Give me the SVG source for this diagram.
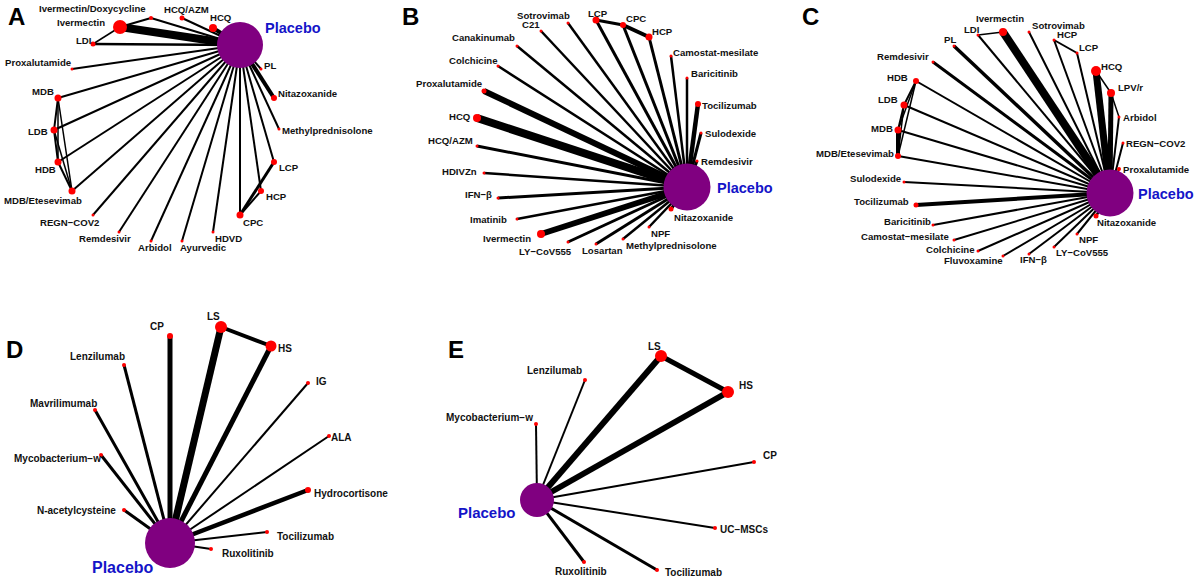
<svg xmlns="http://www.w3.org/2000/svg" width="1200" height="581" viewBox="0 0 1200 581">
<style>
.e{stroke:#000;stroke-linecap:butt;fill:none}
.n{fill:#ff0000}
.p{fill:#800080}
text{font-family:"Liberation Sans",Arial,sans-serif;font-weight:bold;font-size:9.6px;fill:#111}
.big text,.d text{font-size:10px}
.pl{fill:#1414c8;font-size:14.5px}
.ltr{font-size:24px;fill:#000}
</style>
<rect width="1200" height="581" fill="#fff"/>
<g id="panel-letters">
<text class="ltr" x="8" y="25">A</text>
<text class="ltr" x="402" y="25">B</text>
<text class="ltr" x="802" y="25">C</text>
<text class="ltr" x="6" y="358">D</text>
<text class="ltr" x="448" y="358">E</text>
</g>
<g id="connectors">
<g id="edges-A">
<line class="e" x1="151" y1="18" x2="240" y2="45" stroke-width="2"/>
<line class="e" x1="151" y1="18" x2="120" y2="27" stroke-width="2"/>
<line class="e" x1="120" y1="27" x2="240" y2="45" stroke-width="8"/>
<line class="e" x1="93" y1="44" x2="120" y2="27" stroke-width="1.5"/>
<line class="e" x1="93" y1="44" x2="240" y2="45" stroke-width="2.5"/>
<line class="e" x1="182" y1="18" x2="240" y2="45" stroke-width="2"/>
<line class="e" x1="213" y1="28" x2="240" y2="45" stroke-width="4"/>
<line class="e" x1="72" y1="69" x2="240" y2="45" stroke-width="2"/>
<line class="e" x1="58" y1="98" x2="240" y2="45" stroke-width="2"/>
<line class="e" x1="54" y1="130" x2="240" y2="45" stroke-width="2"/>
<line class="e" x1="58" y1="162" x2="240" y2="45" stroke-width="2"/>
<line class="e" x1="72" y1="191" x2="240" y2="45" stroke-width="2"/>
<line class="e" x1="58" y1="98" x2="54" y2="130" stroke-width="2"/>
<line class="e" x1="58" y1="98" x2="58" y2="162" stroke-width="1.5"/>
<line class="e" x1="58" y1="98" x2="72" y2="191" stroke-width="1.5"/>
<line class="e" x1="54" y1="130" x2="58" y2="162" stroke-width="2"/>
<line class="e" x1="54" y1="130" x2="72" y2="191" stroke-width="1.5"/>
<line class="e" x1="58" y1="162" x2="72" y2="191" stroke-width="2"/>
<line class="e" x1="93" y1="215" x2="240" y2="45" stroke-width="2"/>
<line class="e" x1="119" y1="232" x2="240" y2="45" stroke-width="2"/>
<line class="e" x1="151" y1="241" x2="240" y2="45" stroke-width="2"/>
<line class="e" x1="182" y1="241" x2="240" y2="45" stroke-width="2"/>
<line class="e" x1="213" y1="232" x2="240" y2="45" stroke-width="2"/>
<line class="e" x1="240" y1="215" x2="240" y2="45" stroke-width="2"/>
<line class="e" x1="261" y1="191" x2="240" y2="45" stroke-width="2"/>
<line class="e" x1="274" y1="162" x2="240" y2="45" stroke-width="2"/>
<line class="e" x1="279" y1="129" x2="240" y2="45" stroke-width="2"/>
<line class="e" x1="274" y1="98" x2="240" y2="45" stroke-width="4"/>
<line class="e" x1="261" y1="69" x2="240" y2="45" stroke-width="2"/>
<line class="e" x1="240" y1="215" x2="261" y2="191" stroke-width="2"/>
<line class="e" x1="240" y1="215" x2="274" y2="162" stroke-width="3"/>
</g>
<g id="edges-B">
<line class="e" x1="568" y1="23" x2="687" y2="187" stroke-width="2.5"/>
<line class="e" x1="541" y1="31" x2="687" y2="187" stroke-width="2.5"/>
<line class="e" x1="517" y1="46" x2="687" y2="187" stroke-width="2.5"/>
<line class="e" x1="498" y1="66" x2="687" y2="187" stroke-width="2.5"/>
<line class="e" x1="484" y1="91" x2="687" y2="187" stroke-width="6"/>
<line class="e" x1="477" y1="118" x2="687" y2="187" stroke-width="8"/>
<line class="e" x1="477" y1="146" x2="687" y2="187" stroke-width="3"/>
<line class="e" x1="484" y1="173" x2="687" y2="187" stroke-width="2.5"/>
<line class="e" x1="498" y1="198" x2="687" y2="187" stroke-width="3"/>
<line class="e" x1="517" y1="219" x2="687" y2="187" stroke-width="2.5"/>
<line class="e" x1="541" y1="234" x2="687" y2="187" stroke-width="6"/>
<line class="e" x1="568" y1="242" x2="687" y2="187" stroke-width="3"/>
<line class="e" x1="596" y1="244" x2="687" y2="187" stroke-width="3"/>
<line class="e" x1="623" y1="239" x2="687" y2="187" stroke-width="2.5"/>
<line class="e" x1="649" y1="227" x2="687" y2="187" stroke-width="2.5"/>
<line class="e" x1="671" y1="209" x2="687" y2="187" stroke-width="3"/>
<line class="e" x1="697" y1="161" x2="687" y2="187" stroke-width="3"/>
<line class="e" x1="701" y1="133" x2="687" y2="187" stroke-width="3"/>
<line class="e" x1="698" y1="104" x2="687" y2="187" stroke-width="4.5"/>
<line class="e" x1="687" y1="78" x2="687" y2="187" stroke-width="2.5"/>
<line class="e" x1="671" y1="56" x2="687" y2="187" stroke-width="2.5"/>
<line class="e" x1="649" y1="37" x2="687" y2="187" stroke-width="3"/>
<line class="e" x1="623" y1="25" x2="687" y2="187" stroke-width="3"/>
<line class="e" x1="596" y1="20" x2="687" y2="187" stroke-width="3"/>
<line class="e" x1="596" y1="20" x2="623" y2="25" stroke-width="3"/>
<line class="e" x1="623" y1="25" x2="649" y2="37" stroke-width="4"/>
</g>
<g id="edges-C">
<line class="e" x1="1003" y1="32" x2="1110" y2="193" stroke-width="8"/>
<line class="e" x1="978" y1="35" x2="1110" y2="193" stroke-width="2"/>
<line class="e" x1="978" y1="35" x2="1003" y2="32" stroke-width="1.5"/>
<line class="e" x1="954" y1="46" x2="1110" y2="193" stroke-width="3.5"/>
<line class="e" x1="933" y1="62" x2="1110" y2="193" stroke-width="3"/>
<line class="e" x1="916" y1="81" x2="1110" y2="193" stroke-width="2"/>
<line class="e" x1="904" y1="105" x2="1110" y2="193" stroke-width="2"/>
<line class="e" x1="898" y1="130" x2="1110" y2="193" stroke-width="2"/>
<line class="e" x1="898" y1="156" x2="1110" y2="193" stroke-width="2"/>
<line class="e" x1="904" y1="182" x2="1110" y2="193" stroke-width="2"/>
<line class="e" x1="916" y1="205" x2="1110" y2="193" stroke-width="4"/>
<line class="e" x1="933" y1="225" x2="1110" y2="193" stroke-width="2"/>
<line class="e" x1="954" y1="240" x2="1110" y2="193" stroke-width="2"/>
<line class="e" x1="978" y1="251" x2="1110" y2="193" stroke-width="2"/>
<line class="e" x1="1003" y1="256" x2="1110" y2="193" stroke-width="2"/>
<line class="e" x1="1029" y1="254" x2="1110" y2="193" stroke-width="2"/>
<line class="e" x1="1054" y1="247" x2="1110" y2="193" stroke-width="2"/>
<line class="e" x1="1077" y1="234" x2="1110" y2="193" stroke-width="2"/>
<line class="e" x1="1096" y1="216" x2="1110" y2="193" stroke-width="2.5"/>
<line class="e" x1="1119" y1="169" x2="1110" y2="193" stroke-width="2"/>
<line class="e" x1="1123" y1="143" x2="1110" y2="193" stroke-width="2"/>
<line class="e" x1="1119" y1="117" x2="1110" y2="193" stroke-width="2"/>
<line class="e" x1="1111" y1="93" x2="1110" y2="193" stroke-width="5"/>
<line class="e" x1="1096" y1="71" x2="1110" y2="193" stroke-width="7"/>
<line class="e" x1="1077" y1="53" x2="1110" y2="193" stroke-width="2"/>
<line class="e" x1="1054" y1="40" x2="1110" y2="193" stroke-width="2"/>
<line class="e" x1="1029" y1="32" x2="1110" y2="193" stroke-width="2"/>
<line class="e" x1="1054" y1="40" x2="1077" y2="53" stroke-width="2"/>
<line class="e" x1="1096" y1="71" x2="1111" y2="93" stroke-width="1.5"/>
<line class="e" x1="1111" y1="93" x2="1119" y2="117" stroke-width="1.5"/>
<line class="e" x1="916" y1="81" x2="904" y2="105" stroke-width="2"/>
<line class="e" x1="916" y1="81" x2="898" y2="130" stroke-width="1.5"/>
<line class="e" x1="916" y1="81" x2="898" y2="156" stroke-width="1.5"/>
<line class="e" x1="904" y1="105" x2="898" y2="130" stroke-width="2"/>
<line class="e" x1="904" y1="105" x2="898" y2="156" stroke-width="1.5"/>
<line class="e" x1="898" y1="130" x2="898" y2="156" stroke-width="4"/>
</g>
<g id="edges-D">
<line class="e" x1="170" y1="336" x2="170" y2="543" stroke-width="5"/>
<line class="e" x1="221" y1="327" x2="170" y2="543" stroke-width="7"/>
<line class="e" x1="271" y1="346" x2="170" y2="543" stroke-width="5"/>
<line class="e" x1="221" y1="327" x2="271" y2="346" stroke-width="4"/>
<line class="e" x1="124" y1="365" x2="170" y2="543" stroke-width="3"/>
<line class="e" x1="308" y1="383" x2="170" y2="543" stroke-width="2"/>
<line class="e" x1="95" y1="410" x2="170" y2="543" stroke-width="3"/>
<line class="e" x1="329" y1="436" x2="170" y2="543" stroke-width="2"/>
<line class="e" x1="101" y1="455" x2="170" y2="543" stroke-width="3"/>
<line class="e" x1="308" y1="490" x2="170" y2="543" stroke-width="4.5"/>
<line class="e" x1="124" y1="510" x2="170" y2="543" stroke-width="3"/>
<line class="e" x1="267" y1="532" x2="170" y2="543" stroke-width="2"/>
<line class="e" x1="211" y1="549" x2="170" y2="543" stroke-width="2"/>
</g>
<g id="edges-E">
<line class="e" x1="661" y1="356" x2="537" y2="500" stroke-width="6"/>
<line class="e" x1="728" y1="392" x2="537" y2="500" stroke-width="6"/>
<line class="e" x1="661" y1="356" x2="728" y2="392" stroke-width="5"/>
<line class="e" x1="585" y1="380" x2="537" y2="500" stroke-width="2"/>
<line class="e" x1="536" y1="424" x2="537" y2="500" stroke-width="2"/>
<line class="e" x1="754" y1="462" x2="537" y2="500" stroke-width="2"/>
<line class="e" x1="715" y1="528" x2="537" y2="500" stroke-width="2"/>
<line class="e" x1="584" y1="562" x2="537" y2="500" stroke-width="3"/>
<line class="e" x1="657" y1="570" x2="537" y2="500" stroke-width="3"/>
</g>
</g>
<g id="A-placebo"><circle class="p" cx="240" cy="45" r="23"/><text class="pl" x="265" y="33">Placebo</text></g>
<g id="A-ivdoxy"><circle class="n" cx="151" cy="18" r="2"/><text x="39" y="12">Ivermectin/Doxycycline</text></g>
<g id="A-ivermectin"><circle class="n" cx="120" cy="27" r="7"/><text x="57" y="26">Ivermectin</text></g>
<g id="A-ldi"><circle class="n" cx="93" cy="44" r="2.5"/><text x="76" y="44">LDI</text></g>
<g id="A-hcqazm"><circle class="n" cx="182" cy="18" r="2.5"/><text x="164" y="13">HCQ/AZM</text></g>
<g id="A-hcq"><circle class="n" cx="213" cy="28" r="4"/><text x="210" y="21">HCQ</text></g>
<g id="A-pl"><circle class="n" cx="261" cy="69" r="1.5"/><text x="264" y="69">PL</text></g>
<g id="A-nitazoxanide"><circle class="n" cx="274" cy="98" r="3"/><text x="278" y="97">Nitazoxanide</text></g>
<g id="A-methylpred"><circle class="n" cx="279" cy="129" r="1.5"/><text x="282" y="134">Methylprednisolone</text></g>
<g id="A-proxalutamide"><circle class="n" cx="72" cy="69" r="1.5"/><text x="5" y="66">Proxalutamide</text></g>
<g id="A-mdb"><circle class="n" cx="58" cy="98" r="3.5"/><text x="32" y="95">MDB</text></g>
<g id="A-ldb"><circle class="n" cx="54" cy="130" r="3.5"/><text x="28" y="135">LDB</text></g>
<g id="A-hdb"><circle class="n" cx="58" cy="162" r="3.5"/><text x="35" y="173">HDB</text></g>
<g id="A-mdbe"><circle class="n" cx="72" cy="191" r="3.5"/><text x="4" y="204">MDB/Etesevimab</text></g>
<g id="A-regn"><circle class="n" cx="93" cy="215" r="1.5"/><text x="40" y="226">REGN−COV2</text></g>
<g id="A-remdesivir"><circle class="n" cx="119" cy="232" r="1.5"/><text x="79" y="242">Remdesivir</text></g>
<g id="A-arbidol"><circle class="n" cx="151" cy="241" r="1.5"/><text x="138" y="251">Arbidol</text></g>
<g id="A-ayurvedic"><circle class="n" cx="182" cy="241" r="1.5"/><text x="180" y="251">Ayurvedic</text></g>
<g id="A-hdvd"><circle class="n" cx="213" cy="232" r="1.5"/><text x="215" y="242">HDVD</text></g>
<g id="A-cpc"><circle class="n" cx="240" cy="215" r="3.5"/><text x="243" y="226">CPC</text></g>
<g id="A-hcp"><circle class="n" cx="261" cy="191" r="3"/><text x="266" y="200">HCP</text></g>
<g id="A-lcp"><circle class="n" cx="274" cy="162" r="3"/><text x="279" y="171">LCP</text></g>
<g id="B-placebo"><circle class="p" cx="687" cy="187" r="23.5"/><text class="pl" x="717" y="193">Placebo</text></g>
<g id="B-sotrovimab"><circle class="n" cx="568" cy="23" r="1.5"/><text x="517" y="19">Sotrovimab</text></g>
<g id="B-c21"><circle class="n" cx="541" cy="31" r="1.5"/><text x="522" y="28">C21</text></g>
<g id="B-canakinumab"><circle class="n" cx="517" cy="46" r="1.5"/><text x="452" y="41">Canakinumab</text></g>
<g id="B-colchicine"><circle class="n" cx="498" cy="66" r="1.5"/><text x="449" y="64">Colchicine</text></g>
<g id="B-proxalutamide"><circle class="n" cx="484" cy="91" r="2.5"/><text x="416" y="87">Proxalutamide</text></g>
<g id="B-hcq"><circle class="n" cx="477" cy="118" r="4"/><text x="449" y="120">HCQ</text></g>
<g id="B-hcqazm"><circle class="n" cx="477" cy="146" r="1.5"/><text x="428" y="144">HCQ/AZM</text></g>
<g id="B-hdivzn"><circle class="n" cx="484" cy="173" r="1.5"/><text x="442" y="175">HDIVZn</text></g>
<g id="B-ifn"><circle class="n" cx="498" cy="198" r="1.5"/><text x="465" y="198">IFN−β</text></g>
<g id="B-imatinib"><circle class="n" cx="517" cy="219" r="1.5"/><text x="470" y="223">Imatinib</text></g>
<g id="B-ivermectin"><circle class="n" cx="541" cy="234" r="4"/><text x="483" y="242">Ivermectin</text></g>
<g id="B-lycov"><circle class="n" cx="568" cy="242" r="1.5"/><text x="519" y="255">LY−CoV555</text></g>
<g id="B-losartan"><circle class="n" cx="596" cy="244" r="1.5"/><text x="582" y="254">Losartan</text></g>
<g id="B-methylpred"><circle class="n" cx="623" cy="239" r="1.5"/><text x="626" y="249">Methylprednisolone</text></g>
<g id="B-npf"><circle class="n" cx="649" cy="227" r="1.5"/><text x="651" y="237">NPF</text></g>
<g id="B-nitazoxanide"><circle class="n" cx="671" cy="209" r="2.5"/><text x="674" y="221">Nitazoxanide</text></g>
<g id="B-remdesivir"><circle class="n" cx="697" cy="161" r="1.5"/><text x="701" y="165">Remdesivir</text></g>
<g id="B-sulodexide"><circle class="n" cx="701" cy="133" r="1.5"/><text x="705" y="137">Sulodexide</text></g>
<g id="B-tocilizumab"><circle class="n" cx="698" cy="104" r="3"/><text x="702" y="109">Tocilizumab</text></g>
<g id="B-baricitinib"><circle class="n" cx="687" cy="78" r="1.5"/><text x="691" y="77">Baricitinib</text></g>
<g id="B-camostat"><circle class="n" cx="671" cy="56" r="1.5"/><text x="673" y="56">Camostat-mesilate</text></g>
<g id="B-hcp"><circle class="n" cx="649" cy="37" r="3.5"/><text x="652" y="35">HCP</text></g>
<g id="B-cpc"><circle class="n" cx="623" cy="25" r="3"/><text x="626" y="22">CPC</text></g>
<g id="B-lcp"><circle class="n" cx="596" cy="20" r="3.5"/><text x="588" y="17">LCP</text></g>
<g id="C-placebo"><circle class="p" cx="1110" cy="193" r="23.5"/><text class="pl" x="1138" y="199">Placebo</text></g>
<g id="C-ivermectin"><circle class="n" cx="1003" cy="32" r="4"/><text x="976" y="22">Ivermectin</text></g>
<g id="C-ldi"><circle class="n" cx="978" cy="35" r="1.5"/><text x="964" y="33">LDI</text></g>
<g id="C-pl"><circle class="n" cx="954" cy="46" r="1.5"/><text x="944" y="43">PL</text></g>
<g id="C-remdesivir"><circle class="n" cx="933" cy="62" r="1.5"/><text x="877" y="60">Remdesivir</text></g>
<g id="C-hdb"><circle class="n" cx="916" cy="81" r="3"/><text x="887" y="81">HDB</text></g>
<g id="C-ldb"><circle class="n" cx="904" cy="105" r="3.5"/><text x="878" y="103">LDB</text></g>
<g id="C-mdb"><circle class="n" cx="898" cy="130" r="3.5"/><text x="871" y="132">MDB</text></g>
<g id="C-mdbe"><circle class="n" cx="898" cy="156" r="3"/><text x="816" y="157">MDB/Etesevimab</text></g>
<g id="C-sulodexide"><circle class="n" cx="904" cy="182" r="1.5"/><text x="850" y="182">Sulodexide</text></g>
<g id="C-tocilizumab"><circle class="n" cx="916" cy="205" r="2.5"/><text x="854" y="205">Tocilizumab</text></g>
<g id="C-baricitinib"><circle class="n" cx="933" cy="225" r="1.5"/><text x="884" y="225">Baricitinib</text></g>
<g id="C-camostat"><circle class="n" cx="954" cy="240" r="1.5"/><text x="861" y="240">Camostat−mesilate</text></g>
<g id="C-colchicine"><circle class="n" cx="978" cy="251" r="1.5"/><text x="926" y="253">Colchicine</text></g>
<g id="C-fluvoxamine"><circle class="n" cx="1003" cy="256" r="1.5"/><text x="944" y="264">Fluvoxamine</text></g>
<g id="C-ifn"><circle class="n" cx="1029" cy="254" r="1.5"/><text x="1020" y="263">IFN−β</text></g>
<g id="C-lycov"><circle class="n" cx="1054" cy="247" r="1.5"/><text x="1056" y="256">LY−CoV555</text></g>
<g id="C-npf"><circle class="n" cx="1077" cy="234" r="1.5"/><text x="1079" y="243">NPF</text></g>
<g id="C-nitazoxanide"><circle class="n" cx="1096" cy="216" r="2.5"/><text x="1097" y="226">Nitazoxanide</text></g>
<g id="C-proxalutamide"><circle class="n" cx="1119" cy="169" r="2"/><text x="1123" y="173">Proxalutamide</text></g>
<g id="C-regn"><circle class="n" cx="1123" cy="143" r="1.5"/><text x="1126" y="147">REGN−COV2</text></g>
<g id="C-arbidol"><circle class="n" cx="1119" cy="117" r="1.5"/><text x="1123" y="121">Arbidol</text></g>
<g id="C-lpvr"><circle class="n" cx="1111" cy="93" r="4"/><text x="1118" y="91">LPV/r</text></g>
<g id="C-hcq"><circle class="n" cx="1096" cy="71" r="5"/><text x="1101" y="70">HCQ</text></g>
<g id="C-lcp"><circle class="n" cx="1077" cy="53" r="1.5"/><text x="1079" y="51">LCP</text></g>
<g id="C-hcp"><circle class="n" cx="1054" cy="40" r="1.5"/><text x="1057" y="38">HCP</text></g>
<g id="C-sotrovimab"><circle class="n" cx="1029" cy="32" r="1.5"/><text x="1032" y="29">Sotrovimab</text></g>
<g class="d">
<g id="D-placebo"><circle class="p" cx="170" cy="543" r="25"/><text class="pl" x="92" y="573" style="font-size:16px">Placebo</text></g>
<g id="D-cp"><circle class="n" cx="170" cy="336" r="3"/><text x="150" y="330">CP</text></g>
<g id="D-ls"><circle class="n" cx="221" cy="327" r="6"/><text x="207" y="320">LS</text></g>
<g id="D-hs"><circle class="n" cx="271" cy="346" r="5.5"/><text x="278" y="352">HS</text></g>
<g id="D-lenzilumab"><circle class="n" cx="124" cy="365" r="2"/><text x="70" y="360">Lenzilumab</text></g>
<g id="D-ig"><circle class="n" cx="308" cy="383" r="2"/><text x="316" y="385">IG</text></g>
<g id="D-mavrilimumab"><circle class="n" cx="95" cy="410" r="2"/><text x="30" y="407">Mavrilimumab</text></g>
<g id="D-ala"><circle class="n" cx="329" cy="436" r="2"/><text x="331" y="441">ALA</text></g>
<g id="D-myco"><circle class="n" cx="101" cy="455" r="2"/><text x="14" y="462">Mycobacterium−w</text></g>
<g id="D-hydrocortisone"><circle class="n" cx="308" cy="490" r="3"/><text x="314" y="497">Hydrocortisone</text></g>
<g id="D-nac"><circle class="n" cx="124" cy="510" r="2"/><text x="37" y="514">N-acetylcysteine</text></g>
<g id="D-tocilizumab"><circle class="n" cx="267" cy="532" r="2"/><text x="277" y="540">Tocilizumab</text></g>
<g id="D-ruxolitinib"><circle class="n" cx="211" cy="549" r="2"/><text x="222" y="557">Ruxolitinib</text></g>
</g>
<g class="d">
<g id="E-placebo"><circle class="p" cx="537" cy="500" r="17"/><text class="pl" x="458" y="518" style="font-size:15px">Placebo</text></g>
<g id="E-ls"><circle class="n" cx="661" cy="356" r="6"/><text x="648" y="350">LS</text></g>
<g id="E-hs"><circle class="n" cx="728" cy="392" r="6"/><text x="739" y="389">HS</text></g>
<g id="E-lenzilumab"><circle class="n" cx="585" cy="380" r="2"/><text x="527" y="374">Lenzilumab</text></g>
<g id="E-myco"><circle class="n" cx="536" cy="424" r="2"/><text x="446" y="421">Mycobacterium−w</text></g>
<g id="E-cp"><circle class="n" cx="754" cy="462" r="2"/><text x="763" y="459">CP</text></g>
<g id="E-ucmsc"><circle class="n" cx="715" cy="528" r="2"/><text x="720" y="533">UC−MSCs</text></g>
<g id="E-ruxolitinib"><circle class="n" cx="584" cy="562" r="2"/><text x="555" y="575">Ruxolitinib</text></g>
<g id="E-tocilizumab"><circle class="n" cx="657" cy="570" r="2"/><text x="665" y="576">Tocilizumab</text></g>
</g>
</svg>
